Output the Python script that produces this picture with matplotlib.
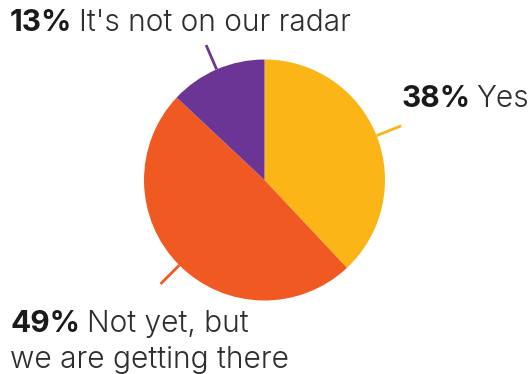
import matplotlib
matplotlib.use("Agg")
import matplotlib.pyplot as plt
import numpy as np

labels = ["Yes", "Not yet, but\nwe are getting there", "It's not on our radar"]
values = [38, 49, 13]
colors = ["#FBB516", "#F05A22", "#6A3594"]
pct_labels = ["38%", "49%", "13%"]

W, H = 532, 374
fig = plt.figure(figsize=(W / 100, H / 100), dpi=100)
fig.patch.set_facecolor("white")

cx, cy, r = 264.5, 194, 120.5
ax = fig.add_axes([(cx - r) / W, (cy - r) / H, 2 * r / W, 2 * r / H])
wedges, _ = ax.pie(values, colors=colors, startangle=90, counterclock=False,
                   radius=1.0, wedgeprops=dict(linewidth=0))
ax.set_xlim(-1, 1)
ax.set_ylim(-1, 1)
ax.set_aspect("auto")
ax.axis("off")

# leader lines
for w, c in zip(wedges, colors):
    mid = np.deg2rad((w.theta1 + w.theta2) / 2)
    r0, r1 = 1.0, 1.22
    ax.plot([r0 * np.cos(mid), r1 * np.cos(mid)], [r0 * np.sin(mid), r1 * np.sin(mid)],
            color=c, lw=2.0, solid_capstyle="butt", clip_on=False, zorder=0)

fam = ["Inter", "DejaVu Sans"]
fs = 21.5
fig.canvas.draw()
renderer = fig.canvas.get_renderer()

def label(x, y, pct, text, gap=7, size=fs, max_right=None):
    t1 = fig.text(x / W, 1 - y / H, pct, fontsize=size, fontweight=700, family=fam,
                  color="#1a1a1a", va="baseline", ha="left")
    bb = t1.get_window_extent(renderer=renderer)
    lines = text.split("\n")
    t2 = fig.text((bb.x1 + gap) / W, 1 - y / H, lines[0], fontsize=size, fontweight=300,
                  family=fam, color="#2e2e2e", va="baseline", ha="left")
    if max_right is not None:
        bb2 = t2.get_window_extent(renderer=renderer)
        shift = max(0, bb2.x1 - max_right)
        if shift:
            t1.set_x((x - shift) / W)
            t2.set_x((bb.x1 + gap - shift) / W)
    for i, ln in enumerate(lines[1:], 1):
        fig.text(x / W, 1 - (y + 36 * i) / H, ln, fontsize=size, fontweight=300, family=fam,
                 color="#2e2e2e", va="baseline", ha="left")

label(10, 31, pct_labels[2], labels[2])
label(407, 107, pct_labels[0], labels[0], gap=6, max_right=529)
label(10, 332, pct_labels[1], labels[1])

fig.savefig("out.png", dpi=100, facecolor="white")
